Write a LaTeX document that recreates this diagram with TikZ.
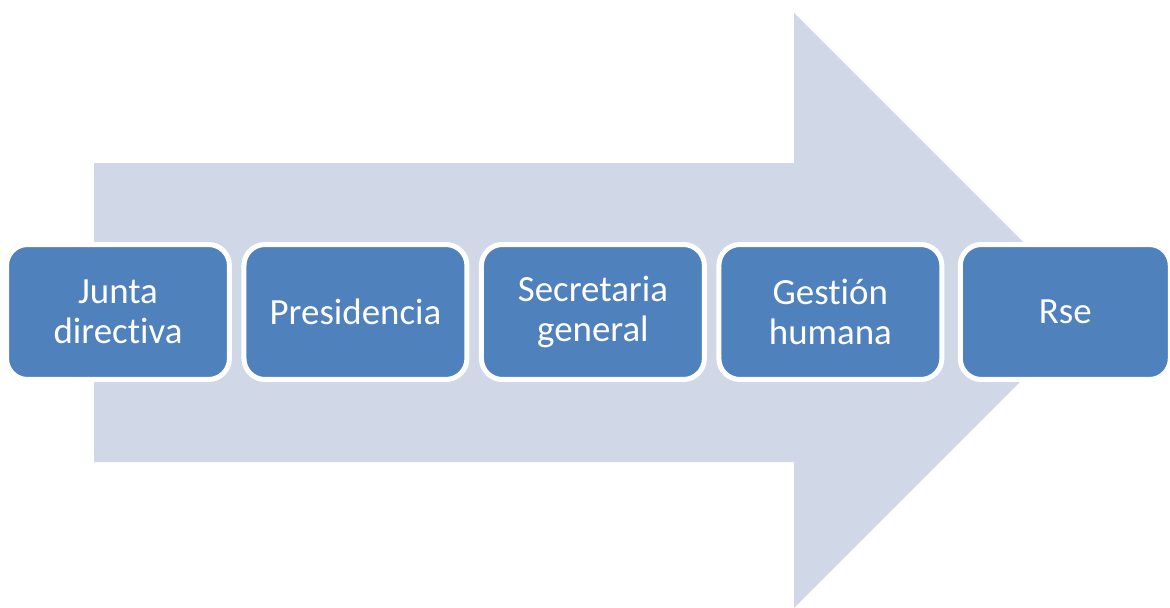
\documentclass[tikz,border=0pt]{standalone}
\usepackage{fontspec}
\setmainfont[Ligatures=NoCommon]{Carlito}
\usepackage{tikz}
\usetikzlibrary{positioning}

\definecolor{arrowfill}{HTML}{D0D8E8}
\definecolor{boxfill}{HTML}{4F81BD}

\begin{document}
\begin{tikzpicture}[x=0.02cm,y=-0.02cm,node distance=4.75cm,on grid,
    stage/.style={draw=white,line width=0.1cm,fill=boxfill,rounded corners=0.42cm,
      minimum width=4.46cm,minimum height=2.7cm,inner sep=0pt,align=center,
      text=white,font=\fontsize{21}{22.5}\selectfont}]
    \useasboundingbox (0,0) rectangle (1170,608);
    % big background arrow
    \fill[arrowfill] (94,163) -- (794,163) -- (794,13) -- (1091.5,310.5)
      -- (794,608) -- (794,462) -- (94,462) -- cycle;
    \node[stage](junta) at (118,312) {Junta\\directiva};
    \node[stage](pres)[right=of junta]{Presidencia};
    \node[stage](secre)[right=of pres]{Secretaria\\general};
    \node[stage](gestion)[right=of secre]{Gestión\\humana};
    \node[stage,minimum width=4.2cm](rse)[right=of gestion,xshift=-0.05cm]{Rse};
  \end{tikzpicture}
\end{document}
